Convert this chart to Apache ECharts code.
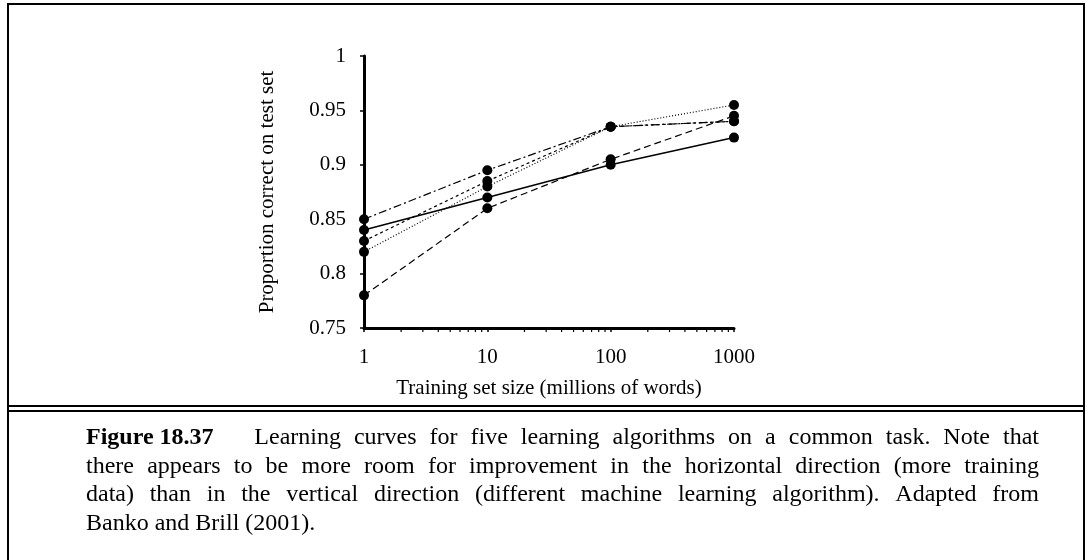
<!DOCTYPE html>
<html>
<head>
<meta charset="utf-8">
<title>Learning curves</title>
<script src="https://cdn.jsdelivr.net/npm/echarts@6/dist/echarts.min.js"></script>
<style>
  html, body { margin: 0; padding: 0; background: #fff; }
  #chart { width: 1088px; height: 560px; }
</style>
</head>
<body>
<div id="chart"></div>
<script>
// Training set sizes (millions of words)
const sizes = [1, 10, 100, 1000];
const xTicks = ['1', '10', '100', '1000'];

// Proportion correct on the test set for each learner
const dashDot   = [0.85, 0.895, 0.935, 0.94];
const solid     = [0.84, 0.87, 0.90, 0.925];
const shortDash = [0.83, 0.885, 0.935, 0.94];
const dotted    = [0.82, 0.88, 0.935, 0.955];
const longDash  = [0.78, 0.86, 0.905, 0.945];

const yTicks = ['0.75', '0.8', '0.85', '0.9', '0.95', '1'];

const xTitle = 'Training set size (millions of words)';
const yTitle = 'Proportion correct on test set';

const captionLead = 'Figure 18.37';
const captionLines = [
  'Learning curves for five learning algorithms on a common task. Note that',
  'there appears to be more room for improvement in the horizontal direction (more training',
  'data) than in the vertical direction (different machine learning algorithm).  Adapted from',
  'Banko and Brill (2001).'
];

const SERIF = '"Liberation Serif", "Times New Roman", serif';

function pairs(vals) { return sizes.map((s, i) => [s, vals[i]]); }

// log-spaced minor ticks (2..9 in each decade)
const minorTicks = [];
for (let d = 1; d < 1000; d *= 10) {
  for (let k = 2; k <= 9; k++) minorTicks.push([k * d, 0.75]);
}

function lineSeries(vals, dash, width) {
  return {
    type: 'line',
    data: pairs(vals),
    symbol: 'circle',
    symbolSize: 10,
    itemStyle: { color: '#000' },
    lineStyle: { color: '#000', width: width || 1.2, type: dash },
    z: 3,
    silent: true
  };
}

// Caption words laid out as justified lines
const measureCtx = document.createElement('canvas').getContext('2d');
function textWidth(str, font) { measureCtx.font = font; return measureCtx.measureText(str).width; }

const capSize = 24;
const capFont = capSize + 'px ' + SERIF;
const capBold = 'bold ' + capSize + 'px ' + SERIF;
const capLeft = 86, capRight = 1039, capTop = 438, capStep = 28.5;
const leadEnd = capLeft + textWidth(captionLead, capBold) + 1.7 * capSize;
const caption = [];
caption.push({
  type: 'text', x: capLeft, y: capTop,
  style: { text: captionLead, font: capBold, fill: '#000', textVerticalAlign: 'middle' }
});
captionLines.forEach((line, li) => {
  const y = capTop + li * capStep;
  const x0 = li === 0 ? leadEnd : capLeft;
  const words = line.split(/\s+/);
  const last = li === captionLines.length - 1;
  let gap = textWidth(' ', capFont);
  if (!last) {
    const total = words.reduce((s, w) => s + textWidth(w, capFont), 0);
    gap = (capRight - x0 - total) / (words.length - 1);
  }
  let x = x0;
  words.forEach(w => {
    caption.push({
      type: 'text', x: x, y: y,
      style: { text: w, font: capFont, fill: '#000', textVerticalAlign: 'middle' }
    });
    x += textWidth(w, capFont) + gap;
  });
});

// Figure frame: outer box and double rule above the caption
const frame = [
  { type: 'rect', shape: { x: 7, y: 3, width: 1078, height: 2 } },
  { type: 'rect', shape: { x: 7, y: 3, width: 2, height: 557 } },
  { type: 'rect', shape: { x: 1083, y: 3, width: 2, height: 557 } },
  { type: 'rect', shape: { x: 7, y: 405, width: 1078, height: 2 } },
  { type: 'rect', shape: { x: 7, y: 410, width: 1078, height: 2 } }
].map(r => Object.assign(r, { style: { fill: '#000' }, silent: true }));

const chart = echarts.init(document.getElementById('chart'), null, { renderer: 'canvas' });
chart.setOption({
  backgroundColor: '#fff',
  animation: false,
  textStyle: { fontFamily: SERIF },
  grid: { left: 364, right: 354, top: 56, bottom: 232, containLabel: false },
  xAxis: {
    type: 'log',
    logBase: 10,
    min: 1,
    max: 1000,
    name: xTitle,
    nameLocation: 'middle',
    nameGap: 50,
    nameTextStyle: { fontSize: 21, color: '#000', fontFamily: SERIF },
    axisLine: { lineStyle: { color: '#000', width: 3 } },
    axisTick: { show: true, length: 4, lineStyle: { color: '#000', width: 1.5 } },
    axisLabel: {
      color: '#000', fontSize: 21, margin: 19, fontFamily: SERIF,
      formatter: (v) => xTicks[Math.round(Math.log10(v))]
    },
    splitLine: { show: false }
  },
  yAxis: {
    type: 'value',
    min: 0.75,
    max: 1,
    interval: 0.05,
    name: yTitle,
    nameLocation: 'middle',
    nameGap: 86,
    nameRotate: 90,
    nameTextStyle: { fontSize: 21, color: '#000', fontFamily: SERIF },
    axisLine: { show: true, lineStyle: { color: '#000', width: 3 } },
    axisTick: { show: true, length: 4, lineStyle: { color: '#000', width: 1.5 } },
    axisLabel: {
      color: '#000', fontSize: 21, margin: 18, fontFamily: SERIF,
      formatter: (v) => yTicks[Math.round((v - 0.75) / 0.05)]
    },
    splitLine: { show: false }
  },
  series: [
    lineSeries(dashDot, [8, 3, 2, 3]),
    lineSeries(solid, 'solid', 1.5),
    lineSeries(shortDash, [3, 3]),
    lineSeries(dotted, [1, 2]),
    lineSeries(longDash, [7, 4]),
    {
      type: 'custom',
      data: minorTicks,
      silent: true,
      z: 2,
      renderItem: (params, api) => {
        const p = api.coord([api.value(0), api.value(1)]);
        return {
          type: 'line',
          shape: { x1: p[0], y1: p[1], x2: p[0], y2: p[1] + 4 },
          style: { stroke: '#000', lineWidth: 1.2 }
        };
      }
    }
  ],
  graphic: frame.concat(caption)
});
</script>
</body>
</html>
